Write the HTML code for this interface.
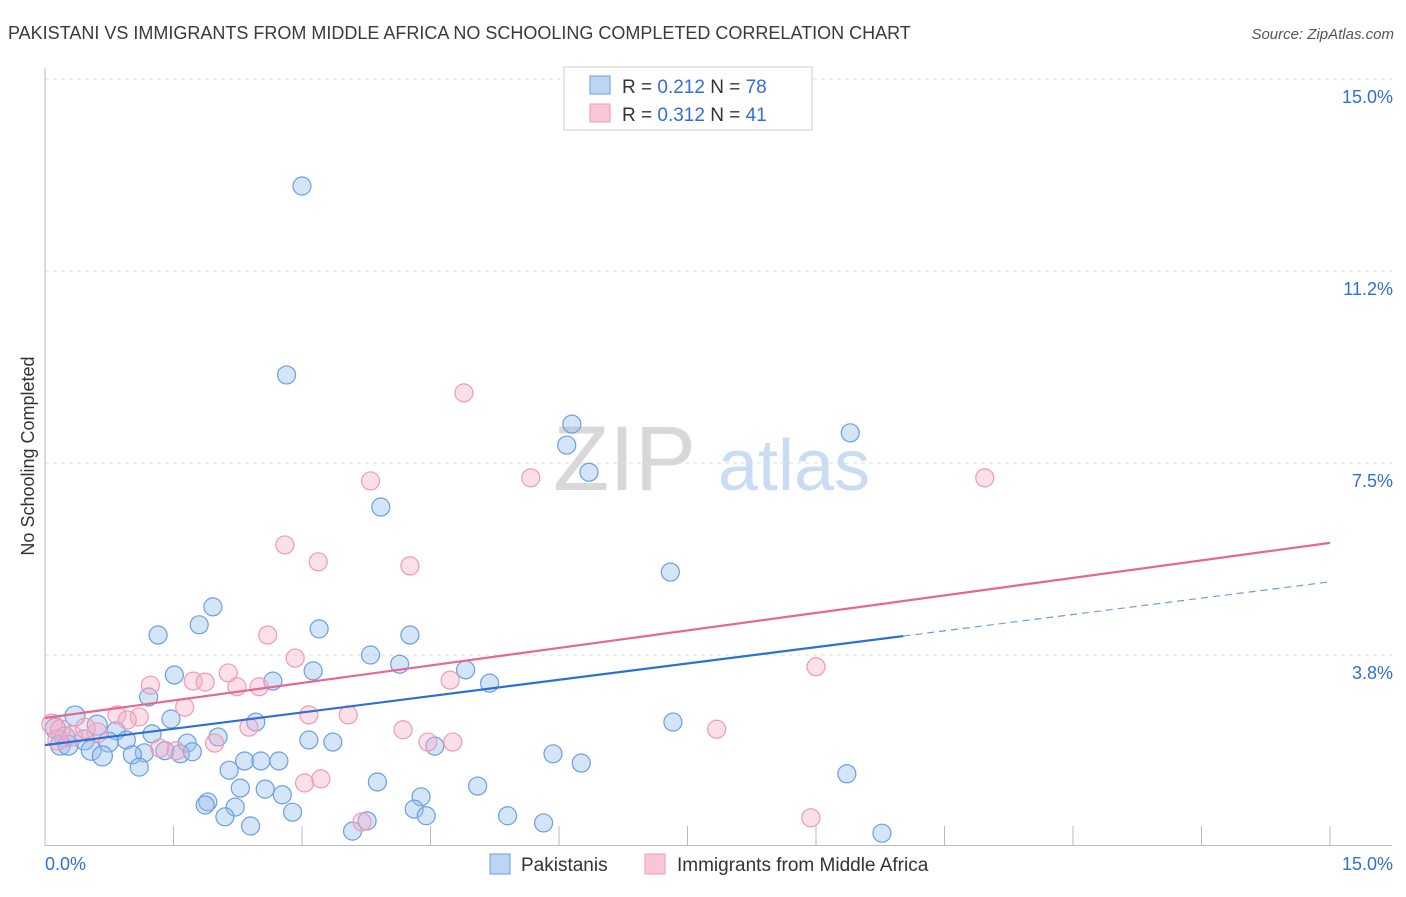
<!DOCTYPE html>
<html><head><meta charset="utf-8"><style>
body{margin:0;background:#fff;font-family:"Liberation Sans",sans-serif;}
svg text{font-family:"Liberation Sans",sans-serif;}
</style></head><body>
<svg width="1406" height="892" xmlns="http://www.w3.org/2000/svg">
<text x="8" y="39" font-size="18" fill="#3a3a3a">PAKISTANI VS IMMIGRANTS FROM MIDDLE AFRICA NO SCHOOLING COMPLETED CORRELATION CHART</text>
<text x="1394" y="39" font-size="15" fill="#555" font-style="italic" text-anchor="end">Source: ZipAtlas.com</text>
<text x="34" y="456" font-size="18" fill="#333" text-anchor="middle" transform="rotate(-90 34 456)">No Schooling Completed</text>
<g>
<text x="553" y="490" font-size="92" fill="#d8d8d8" font-family="Liberation Serif">ZIP</text>
<text x="718" y="490" font-size="72" fill="#c9dcf3">atlas</text>
</g>
<g id="grid"></g>
<g id="axes"></g>
<g id="pts"></g>
<g id="lines"></g>
<g>
<rect x="564" y="67" width="248" height="63" fill="#fff" stroke="#ccc"/>
<rect x="590" y="76" width="20" height="18" fill="#bcd5f5" stroke="#6a9fe0"/>
<rect x="590" y="104" width="20" height="18" fill="#f8c6d6" stroke="#ef9ab5"/>
<text x="622" y="93" font-size="19" fill="#333">R = <tspan fill="#2f6fd6">0.212</tspan>   N = <tspan fill="#2f6fd6">78</tspan></text>
<text x="622" y="121" font-size="19" fill="#333">R = <tspan fill="#2f6fd6">0.312</tspan>   N =  <tspan fill="#2f6fd6">41</tspan></text>
</g>
<g>
<rect x="490" y="854" width="20" height="20" fill="#bcd5f5" stroke="#6a9fe0"/>
<text x="521" y="871" font-size="19" fill="#333">Pakistanis</text>
<rect x="645" y="854" width="20" height="20" fill="#f8c6d6" stroke="#ef9ab5"/>
<text x="677" y="871" font-size="19" fill="#333">Immigrants from Middle Africa</text>
</g>
<script>
const blueX=[3.0,2.82,6.15,6.09,6.35,9.40,3.92,7.30,1.96,1.32,1.80,3.20,4.26,3.80,4.14,3.13,4.91,1.51,2.66,5.19,1.21,0.35,1.47,2.46,7.33,0.61,0.83,0.12,1.25,2.02,0.23,0.46,0.74,0.95,1.66,3.08,3.36,4.55,0.18,0.27,0.54,0.67,1.16,1.02,1.40,1.58,1.72,1.10,2.33,2.52,2.73,5.93,6.26,2.15,9.36,3.88,5.05,2.28,2.57,2.77,1.90,1.87,2.22,4.39,4.31,2.89,2.10,4.45,5.40,3.76,5.82,2.40,3.59,9.77];
const blueY=[12.91,9.22,8.26,7.85,7.32,8.09,6.64,5.37,4.69,4.14,4.34,4.26,4.14,3.75,3.57,3.44,3.46,3.36,3.24,3.20,2.93,2.56,2.50,2.44,2.44,2.38,2.27,2.32,2.21,2.15,2.15,2.09,2.05,2.09,2.03,2.09,2.05,1.97,1.99,1.99,1.89,1.78,1.84,1.80,1.88,1.82,1.86,1.56,1.68,1.68,1.68,1.82,1.64,1.50,1.43,1.27,1.19,1.15,1.13,1.02,0.88,0.82,0.78,0.98,0.74,0.68,0.59,0.61,0.61,0.51,0.47,0.41,0.31,0.27];
const pinkX=[4.89,5.67,3.80,10.97,2.80,3.19,4.26,2.60,2.92,2.14,1.73,1.87,1.23,2.24,2.50,4.73,9.00,1.63,0.84,1.10,3.08,3.54,0.96,0.08,0.18,2.38,4.18,7.84,0.61,0.32,1.98,4.47,4.76,1.34,1.53,3.03,3.22,3.70,8.94,0.15,0.47];
const pinkY=[8.87,7.21,7.15,7.21,5.90,5.57,5.49,4.14,3.69,3.40,3.24,3.22,3.16,3.13,3.13,3.26,3.52,2.73,2.58,2.54,2.58,2.58,2.48,2.40,2.29,2.34,2.29,2.30,2.23,2.17,2.03,2.05,2.05,1.93,1.88,1.25,1.33,0.49,0.57,2.09,2.32];
const blueTrend=[1.99,4.12,5.18];
const pinkTrend=[2.52,5.94];
const yTickVals=[15,11.25,7.5,3.75];
const yTickLabels=["15.0%","11.2%","7.5%","3.8%"];
const xTickVals=[0,1.5,3,4.5,6,7.5,9,10.5,12,13.5,15];
const NS="http://www.w3.org/2000/svg";
const sx=v=>45+v/15*1285;
const sy=v=>847-v*51.2;
function mk(tag,attrs,parent){const e=document.createElementNS(NS,tag);for(const k in attrs)e.setAttribute(k,attrs[k]);parent.appendChild(e);return e;}
const grid=document.getElementById('grid'),axes=document.getElementById('axes'),pts=document.getElementById('pts'),lines=document.getElementById('lines');
yTickVals.forEach((v,i)=>{
 const g=mk('line',{x1:45,x2:1392,y1:sy(v),y2:sy(v),stroke:'#ddd','stroke-dasharray':'4,4'},grid);
 
 
 const t=mk('text',{x:1393,y:sy(v)+24,'font-size':18,fill:'#2f6fd6','text-anchor':'end'},axes);
 t.textContent=yTickLabels[i];
 
 
});
const ya=mk('line',{x1:45,x2:45,y1:68,y2:846,stroke:'#bbb'},axes);


const xa=mk('line',{x1:45,x2:1392,y1:845.5,y2:845.5,stroke:'#bbb'},axes);


xTickVals.slice(1).forEach(v=>{
 const tk=mk('line',{x1:sx(v),x2:sx(v),y1:826,y2:846,stroke:'#bbb'},axes);
 
 
});
const xl=mk('text',{x:45,y:870,'font-size':18,fill:'#2f6fd6'},axes);xl.textContent='0.0%';


const xr=mk('text',{x:1393,y:870,'font-size':18,fill:'#2f6fd6','text-anchor':'end'},axes);xr.textContent='15.0%';


blueX.forEach((x,i)=>{
 const c=mk('circle',{cx:sx(x),cy:sy(blueY[i]),r:x<0.8?10:9,fill:'rgba(150,190,238,0.4)',stroke:'#6a9fe0','stroke-width':1.2},pts);
 
 
});
pinkX.forEach((x,i)=>{
 const c=mk('circle',{cx:sx(x),cy:sy(pinkY[i]),r:x<0.8?10:9,fill:'rgba(246,175,199,0.4)',stroke:'#ef9ab5','stroke-width':1.2},pts);
 
 
});
const pl=mk('line',{x1:sx(0),y1:sy(pinkTrend[0]),x2:sx(15),y2:sy(pinkTrend[1]),stroke:'#e8668f','stroke-width':2.2},lines);


const bl=mk('line',{x1:sx(0),y1:sy(blueTrend[0]),x2:sx(10.02),y2:sy(blueTrend[1]),stroke:'#2d6fd6','stroke-width':2.2},lines);


const bd=mk('line',{x1:sx(10.02),y1:sy(blueTrend[1]),x2:sx(15),y2:sy(blueTrend[2]),stroke:'#6a9fe0','stroke-width':1.2,'stroke-dasharray':'7,5'},lines);


</script>
</svg>
</body></html>
